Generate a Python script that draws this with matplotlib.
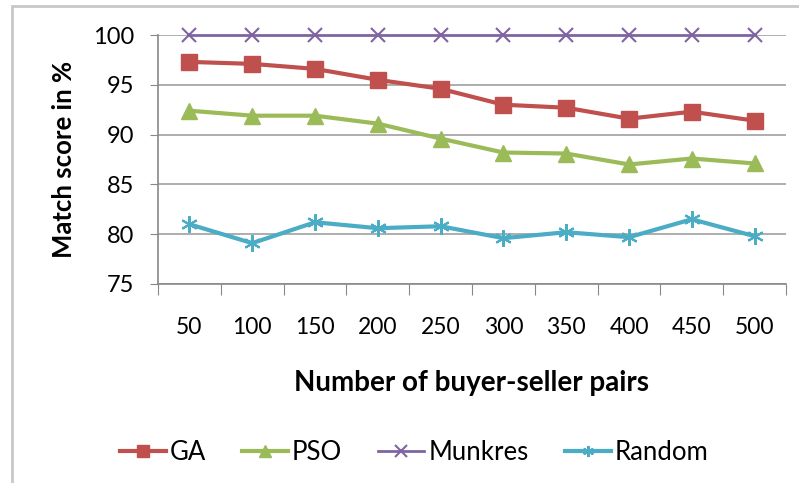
import matplotlib.pyplot as plt
from matplotlib.patches import Rectangle

plt.rcParams['font.family'] = ['Lato', 'DejaVu Sans']

pairs = ['50', '100', '150', '200', '250', '300', '350', '400', '450', '500']
ga = [97.3, 97.1, 96.6, 95.5, 94.6, 93.0, 92.7, 91.6, 92.3, 91.4]
pso = [92.4, 91.9, 91.9, 91.1, 89.6, 88.2, 88.1, 87.0, 87.6, 87.1]
munkres = [100, 100, 100, 100, 100, 100, 100, 100, 100, 100]
rand = [81.0, 79.1, 81.2, 80.6, 80.8, 79.6, 80.2, 79.7, 81.5, 79.8]

fig = plt.figure(figsize=(7.99, 4.83), dpi=100)
ax = fig.add_axes([158 / 799, 1 - 284 / 483, 628 / 799, 249 / 483])

# outer chart border (only left and top visible in reference)
fig.patches.append(Rectangle((12 / 799, -0.1), 1.2, 1.1 - 6 / 483,
                             transform=fig.transFigure, fill=False,
                             edgecolor='#c8c8c8', linewidth=2))

x = range(len(pairs))
ax.plot(x, ga, color='#C0504D', lw=3, marker='s', ms=11, label='GA', clip_on=False, zorder=4)
ax.plot(x, pso, color='#9BBB59', lw=3, marker='^', ms=11, label='PSO', clip_on=False, zorder=4)
ax.plot(x, munkres, color='#8064A2', lw=2, marker='x', ms=10, mew=1.5, label='Munkres', clip_on=False, zorder=4)
ax.plot(x, rand, color='#4BACC6', lw=3, marker=(6, 2, 0), ms=12, mew=1.5, label='Random', clip_on=False, zorder=4)

ax.set_xlim(-0.5, 9.5)
ax.set_ylim(75, 100)
ax.set_yticks([75, 80, 85, 90, 95, 100])
ax.yaxis.grid(True, color='#a0a0a0', lw=1.2)
ax.set_axisbelow(True)

ax.set_xticks([i - 0.5 for i in range(11)])
ax.set_xticklabels([])
ax.set_xticks(list(x), minor=True)
ax.set_xticklabels(pairs, minor=True, fontsize=16.5)
ax.tick_params(axis='x', which='major', length=8, color='#888888', direction='out')
ax.tick_params(axis='x', which='minor', length=0, pad=24)
ax.tick_params(axis='y', length=6, color='#888888', labelsize=17, pad=11)

for s in ['top', 'right']:
    ax.spines[s].set_visible(False)
for s in ['left', 'bottom']:
    ax.spines[s].set_color('#888888')
    ax.spines[s].set_linewidth(1.2)

ax.set_ylabel('Match score in %', fontsize=18.5, fontweight='bold', labelpad=12)
ax.set_xlabel('Number of buyer-seller pairs', fontsize=20, fontweight='bold', labelpad=23)

leg = fig.legend(loc='center', bbox_to_anchor=(414 / 799, 1 - 452 / 483), ncol=4, frameon=False,
                 fontsize=18.5, handlelength=1.8, handletextpad=0.15, columnspacing=1.4)
for h in leg.legend_handles:
    h.set_markersize(8)

fig.savefig('out.png', dpi=100)
